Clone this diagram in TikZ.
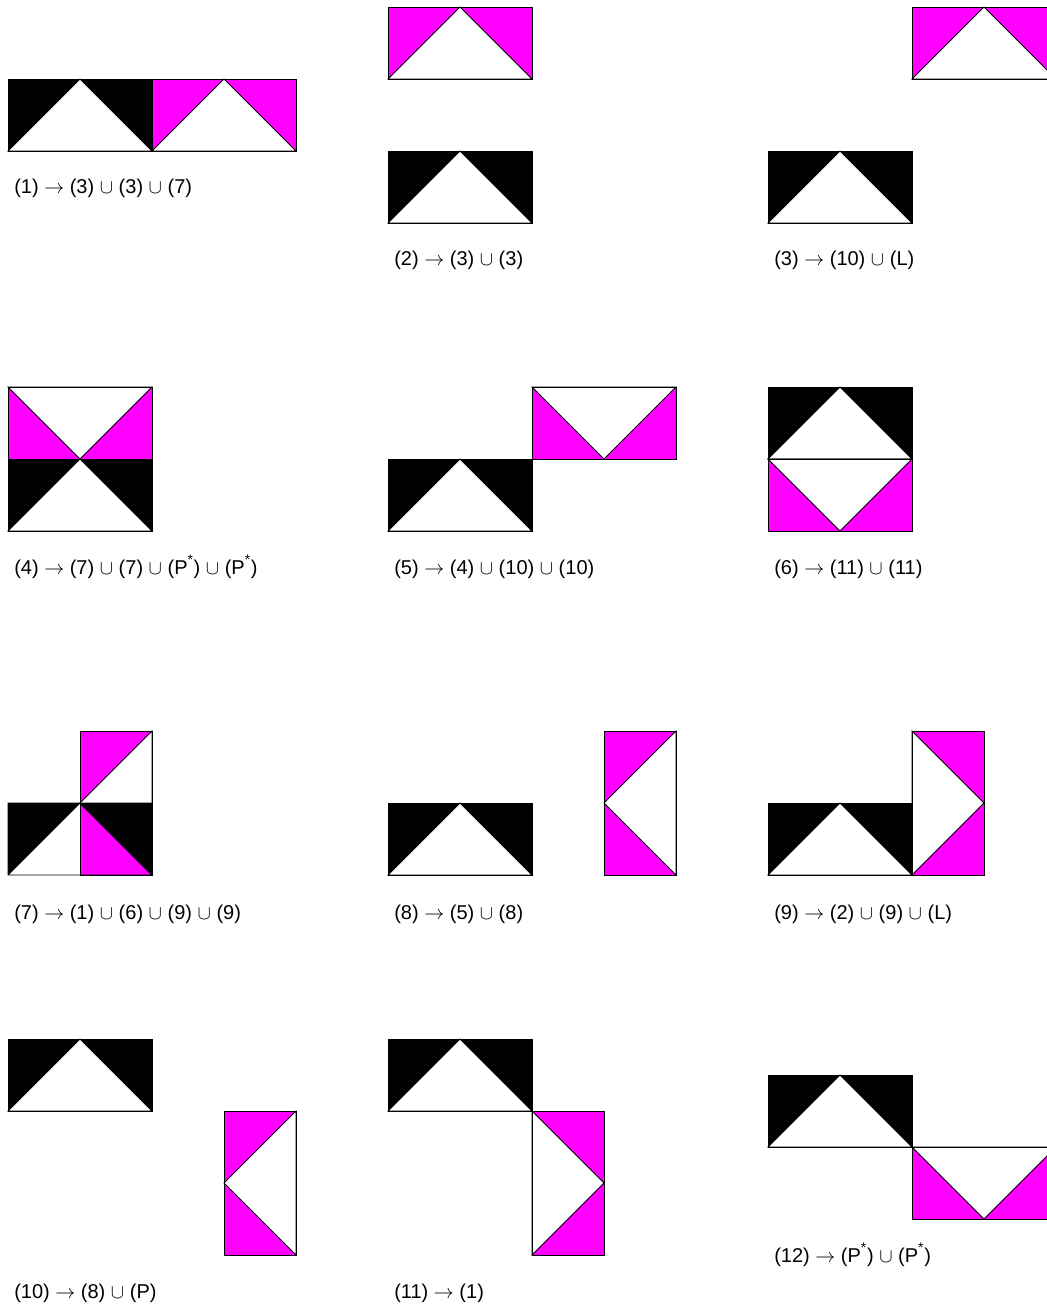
\documentclass[tikz,border=0pt]{standalone}
\usepackage{fontspec}
\setmainfont{Liberation Sans}
\usepackage{tikz}
\definecolor{tilemag}{RGB}{255,0,255}

\begin{document}
\begin{tikzpicture}[x=0.72pt,y=-0.72pt,
  edge/.style={draw=black,line width=0.6pt,line join=miter},
  lab/.style={anchor=base west,inner sep=0pt,font=\Large},
  pics/hup/.style={code={
    \fill[#1] (0,0) rectangle (144,72);
    \filldraw[edge,fill=white] (0,72) -- (72,0) -- (144,72) -- cycle;
    \draw[edge] (0,0) rectangle (144,72);}},
  pics/hdown/.style={code={
    \fill[#1] (0,0) rectangle (144,72);
    \filldraw[edge,fill=white] (0,0) -- (72,72) -- (144,0) -- cycle;
    \draw[edge] (0,0) rectangle (144,72);}},
  pics/vleft/.style={code={
    \fill[#1] (0,0) rectangle (72,144);
    \filldraw[edge,fill=white] (72,0) -- (0,72) -- (72,144) -- cycle;
    \draw[edge] (0,0) rectangle (72,144);}},
  pics/vright/.style={code={
    \fill[#1] (0,0) rectangle (72,144);
    \filldraw[edge,fill=white] (0,0) -- (72,72) -- (0,144) -- cycle;
    \draw[edge] (0,0) rectangle (72,144);}}]
\clip (0,0) rectangle (1047,1308);
% row 1
\pic at (8,79) {hup=black};
\pic at (152,79) {hup=tilemag};
\node[lab] (lab1) at (14,194) {(1) $\rightarrow$ (3) $\cup$ (3) $\cup$ (7)};
\pic at (388,7) {hup=tilemag};
\pic at (388,151) {hup=black};
\node[lab] (lab2) at (394,266) {(2) $\rightarrow$ (3) $\cup$ (3)};
\pic at (912,7) {hup=tilemag};
\pic at (768,151) {hup=black};
\node[lab] (lab3) at (774,266) {(3) $\rightarrow$ (10) $\cup$ (L)};
% row 2
\pic at (8,387) {hdown=tilemag};
\pic at (8,459) {hup=black};
\node[lab] (lab4) at (14,574) {(4) $\rightarrow$ (7) $\cup$ (7) $\cup$ (P\textsuperscript{\raisebox{.35ex}{*}}) $\cup$ (P\textsuperscript{\raisebox{.35ex}{*}})};
\pic at (388,459) {hup=black};
\pic at (532,387) {hdown=tilemag};
\node[lab] (lab5) at (394,574) {(5) $\rightarrow$ (4) $\cup$ (10) $\cup$ (10)};
\pic at (768,387) {hup=black};
\pic at (768,459) {hdown=tilemag};
\node[lab] (lab6) at (774,574) {(6) $\rightarrow$ (11) $\cup$ (11)};
% row 3
\pic at (80,731) {vleft=tilemag};
\fill (8,803) -- (80,803) -- (8,875) -- cycle;
\fill (80,803) -- (152,803) -- (152,875) -- cycle;
\draw[edge] (8,803) rectangle (152,875) (8,875) -- (80,803) -- (152,875);
\node[lab] (lab7) at (14,919) {(7) $\rightarrow$ (1) $\cup$ (6) $\cup$ (9) $\cup$ (9)};
\pic at (388,803) {hup=black};
\pic at (604,731) {vleft=tilemag};
\node[lab] (lab8) at (394,919) {(8) $\rightarrow$ (5) $\cup$ (8)};
\pic at (768,803) {hup=black};
\pic at (912,731) {vright=tilemag};
\node[lab] (lab9) at (774,919) {(9) $\rightarrow$ (2) $\cup$ (9) $\cup$ (L)};
% row 4
\pic at (8,1039) {hup=black};
\pic at (224,1111) {vleft=tilemag};
\node[lab] (lab10) at (14,1298) {(10) $\rightarrow$ (8) $\cup$ (P)};
\pic at (388,1039) {hup=black};
\pic at (532,1111) {vright=tilemag};
\node[lab] (lab11) at (394,1298) {(11) $\rightarrow$ (1)};
\pic at (768,1075) {hup=black};
\pic at (912,1147) {hdown=tilemag};
\node[lab] (lab12) at (774,1262) {(12) $\rightarrow$ (P\textsuperscript{\raisebox{.35ex}{*}}) $\cup$ (P\textsuperscript{\raisebox{.35ex}{*}})};
\end{tikzpicture}
\end{document}
